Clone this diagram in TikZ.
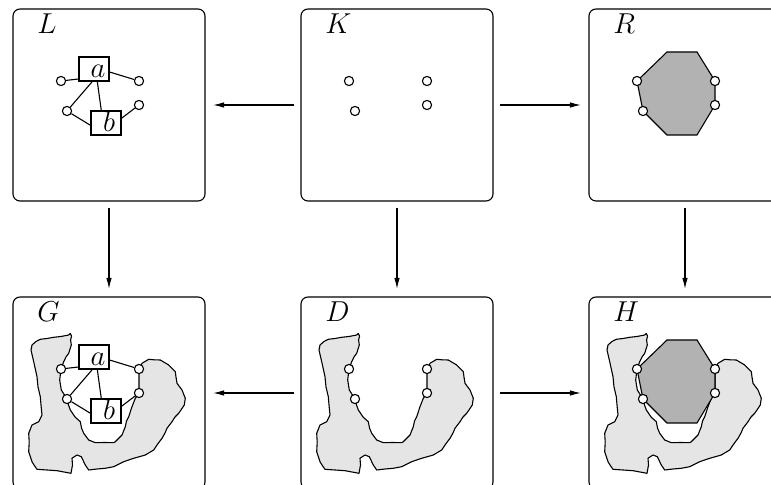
\documentclass[tikz,border=0pt]{standalone}
\usetikzlibrary{arrows.meta}
\tikzset{
  frame/.style={draw, rounded corners=3.5pt, minimum width=96pt, minimum height=96pt, inner sep=0pt, line width=0.55pt},
  port/.style={circle, draw, fill=white, minimum size=4.6pt, inner sep=0pt, line width=0.55pt},
  vbox/.style={rectangle, draw, fill=white, minimum width=15pt, minimum height=12pt, inner sep=0pt,
    text height=8.6pt, text depth=0pt, line width=0.55pt, font=\fontsize{14}{16}\selectfont},
  tag/.style={anchor=base west, inner sep=0pt, font=\fontsize{14}{16}\selectfont},
  morph/.style={-{Latex[length=5.5pt,width=2.8pt]}, shorten <=3pt, shorten >=3.8pt, line width=0.55pt},
  blobfill/.style={fill=black!10, draw, line width=0.55pt, line join=round},
  rulefill/.style={fill=black!30, draw, line width=0.55pt},
  edge/.style={line width=0.55pt}
}
\def\blobpts{(19,48) -- (23,44.5) -- (27.3,42.3) -- (34,41.5) -- (40.7,40.3) -- (48,39.5) -- (55.7,38) -- (57.3,36.5) -- (58.6,39) -- (57.6,43) -- (58.3,48) -- (55.7,56.3) -- (53,60) -- (50.7,64.7) -- (48,72) -- (46.7,83) -- (48.3,93) -- (54,102) -- (55.5,108) -- (57.3,113) -- (62.3,120.3) -- (67.3,124.7) -- (68.5,131) -- (70.7,136.3) -- (75.7,143) -- (82.3,145.7) -- (92,145.5) -- (100.7,145.7) -- (102.3,144.7) -- (106,141) -- (109,138) -- (112.3,129.7) -- (113.5,124) -- (115.7,119.7) -- (119,109.7) -- (122.3,101.3) -- (126,96) -- (126,72) -- (129,66.3) -- (135.7,62.3) -- (141,62.8) -- (147.3,63) -- (155.7,68) -- (162.3,74.7) -- (163,80) -- (164,86.3) -- (169,93) -- (172.3,101.3) -- (171.3,108) -- (165.7,116.3) -- (162,120) -- (159,124.7) -- (154,131.3) -- (152,136) -- (149,141.3) -- (144,148) -- (140.7,153) -- (132.3,158) -- (120.7,161.3) -- (110.7,164.7) -- (100.7,169.7) -- (92.3,171.3) -- (84,172) -- (75.7,173) -- (72.3,168) -- (68.3,159.7) -- (64,158) -- (59,161.3) -- (59.5,168) -- (58,176.3) -- (44,173.7) -- (24,172.3) -- (21,168) -- (19,164.7) -- (15.7,154.7) -- (16.2,145) -- (15.7,136.3) -- (19,128) -- (25.7,124.7) -- (29,118) -- (28,108) -- (27.3,99.7) -- (25,90) -- (24,79.7) -- (20.7,64.7) -- (18,53) -- cycle}
\def\octpts{(78,43) -- (108,43) -- (126,72) -- (126,96) -- (108,126) -- (78,126) -- (54,102) -- (48,72) -- cycle}
\newcommand\myports[1]{%
  \node[port] (#1c1) at (48,72) {};
  \node[port] (#1c2) at (126,72) {};
  \node[port] (#1c3) at (54,102) {};
  \node[port] (#1c4) at (126,96) {};}
\newcommand\mygraph[1]{%
  \node[vbox] (#1a) at (81,60) {\kern4pt$a$};
  \node[vbox] (#1b) at (93,114) {\kern3pt$b$};
  \myports{#1}
  \draw[edge] (#1c1) -- ([yshift=-5pt]#1a.west);
  \draw[edge] (#1c2) -- ([yshift=-1.5pt]#1a.east);
  \draw[edge] ([xshift=-0.85pt]#1a.south) -- (#1c3);
  \draw[edge] ([xshift=1.65pt]#1a.south) -- ([xshift=-2.35pt]#1b.north);
  \draw[edge] (#1c3) -- ([yshift=-1.15pt]#1b.west);
  \draw[edge] (#1c4) -- ([yshift=2.35pt]#1b.east);}
\begin{document}
\begin{tikzpicture}[x=0.5pt, y=-0.5pt]
\useasboundingbox (0,0) rectangle (771,485);
\clip (0,0) rectangle (771,485);
% frames
\node[frame] (L) at (109,105) {};
\node[frame] (K) at (397,105) {};
\node[frame] (R) at (685,105) {};
\node[frame] (G) at (109,393) {};
\node[frame] (D) at (397,393) {};
\node[frame] (H) at (685,393) {};
% L
\begin{scope}[shift={(13,9)}]
  \node[tag] (Ltag) at (24,25) {$L$};
  \mygraph{L}
\end{scope}
% K
\begin{scope}[shift={(301,9)}]
  \node[tag] (Ktag) at (24,25) {$K$};
  \myports{K}
\end{scope}
% R
\begin{scope}[shift={(589,9)}]
  \node[tag] (Rtag) at (24,25) {$R$};
  \draw[rulefill] \octpts;
  \myports{R}
\end{scope}
% G
\begin{scope}[shift={(13,297)}]
  \node[tag] (Gtag) at (24,25) {$G$};
  \draw[blobfill] \blobpts;
  \mygraph{G}
\end{scope}
% D
\begin{scope}[shift={(301,297)}]
  \node[tag] (Dtag) at (24,25) {$D$};
  \draw[blobfill] \blobpts;
  \myports{D}
\end{scope}
% H
\begin{scope}[shift={(589,297)}]
  \node[tag] (Htag) at (24,25) {$H$};
  \draw[blobfill] \blobpts;
  \draw[rulefill] \octpts;
  \myports{H}
\end{scope}
% morphisms
\draw[morph] (K) -- (L);
\draw[morph] (K) -- (R);
\draw[morph] (L) -- (G);
\draw[morph] (K) -- (D);
\draw[morph] (R) -- (H);
\draw[morph] (D) -- (G);
\draw[morph] (D) -- (H);
\end{tikzpicture}
\end{document}
